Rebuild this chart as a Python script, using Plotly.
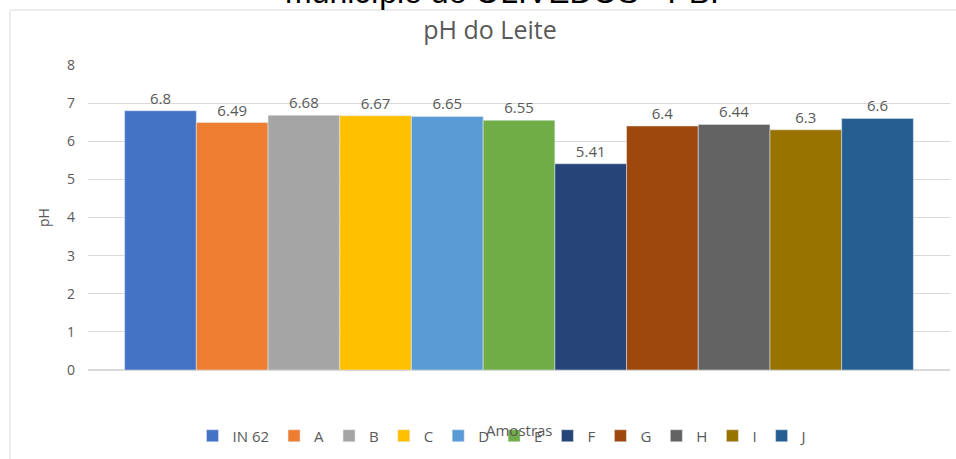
import plotly.graph_objects as go

samples = ["IN 62", "A", "B", "C", "D", "E", "F", "G", "H", "I", "J"]
ph_values = [6.8, 6.49, 6.68, 6.67, 6.65, 6.55, 5.41, 6.4, 6.44, 6.3, 6.6]
colors = ["#4472C4", "#ED7D31", "#A5A5A5", "#FFC000", "#5B9BD5", "#70AD47",
          "#264478", "#9E480E", "#636363", "#997300", "#255E91"]
category = ["Amostras"]

W, H = 956, 459
L, R, T, B = 88, 6, 65, 89
pw, ph = W - L - R, H - T - B

def px_x(p):
    return (p - L) / pw

def px_y(p):
    return (H - B - p) / ph

FONT = "Open Sans, Liberation Sans, sans-serif"
GRAY = "#595959"

fig = go.Figure()
for name, val, col in zip(samples, ph_values, colors):
    fig.add_trace(go.Bar(
        x=category, y=[val], name=name,
        marker=dict(color=col),
        text=[f"{val:g}"], textposition="outside",
        textfont=dict(color=GRAY, size=15),
        cliponaxis=False,
    ))

fig.update_layout(
    width=W, height=H,
    margin=dict(l=L, r=R, t=T, b=B),
    paper_bgcolor="white", plot_bgcolor="white",
    font=dict(family=FONT, color=GRAY),
    barmode="group", bargap=0.085, bargroupgap=0,
    title=dict(text="pH do Leite", xref="container", x=490 / W, xanchor="center",
               yref="container", y=1 - 30 / H, yanchor="middle",
               font=dict(size=25, color=GRAY)),
    showlegend=True,
    legend=dict(orientation="h", x=px_x(503), xanchor="center",
                y=px_y(436), yanchor="middle",
                font=dict(size=15, color=GRAY),
                itemwidth=30, tracegroupgap=0),
    xaxis=dict(showticklabels=False, showgrid=False, showline=False,
               zeroline=False, ticks=""),
    yaxis=dict(range=[0, 8], dtick=1, showgrid=True, gridcolor="#D9D9D9",
               gridwidth=1, zeroline=True, zerolinecolor="#D9D9D9",
               showline=False, ticks="", ticklabelstandoff=12,
               tickfont=dict(size=14, color=GRAY),
               title=dict(text="pH", font=dict(size=14, color=GRAY),
                          standoff=14)),
    annotations=[
        dict(text="Amostras", xref="paper", yref="paper",
             x=px_x(519), y=px_y(430), xanchor="center", yanchor="middle",
             showarrow=False, font=dict(size=15, color=GRAY)),
        dict(text="município de OLIVEDOS - PB.", xref="paper", yref="paper",
             x=px_x(502), y=px_y(12), xanchor="center", yanchor="bottom",
             showarrow=False,
             font=dict(size=32, color="#000000", family="Liberation Sans, Arial, sans-serif")),
    ],
    shapes=[
        dict(type="line", xref="paper", yref="paper",
             x0=px_x(10), x1=px_x(956), y0=px_y(10), y1=px_y(10),
             line=dict(color="#D9D9D9", width=1)),
        dict(type="line", xref="paper", yref="paper",
             x0=px_x(10), x1=px_x(10), y0=px_y(10), y1=px_y(459),
             line=dict(color="#D9D9D9", width=1)),
    ],
)

fig.write_html(
    "out.html",
    config={"displayModeBar": False},
    post_script="document.body.style.margin='0';document.body.style.overflow='hidden';",
)
